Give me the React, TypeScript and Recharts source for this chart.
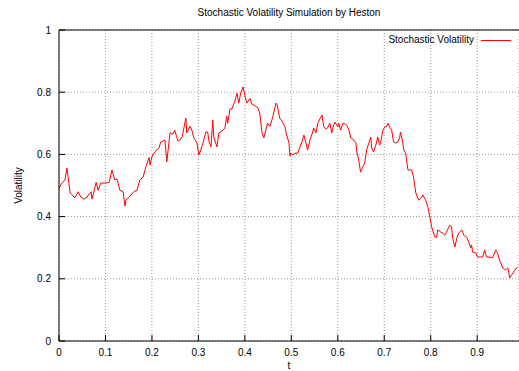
import { CartesianGrid, Line, LineChart, ReferenceLine, XAxis, YAxis } from "recharts"

// time steps (t) and simulated volatility
const times = [
  0.000, 0.006, 0.013, 0.017, 0.024, 0.028, 0.034, 0.041, 0.047, 0.054,
  0.060, 0.069, 0.071, 0.080, 0.084, 0.090, 0.101, 0.108, 0.114, 0.120,
  0.125, 0.131, 0.138, 0.142, 0.144, 0.153, 0.161, 0.168, 0.174, 0.181,
  0.187, 0.194, 0.196, 0.200, 0.206, 0.215, 0.219, 0.228, 0.232, 0.239,
  0.245, 0.249, 0.256, 0.260, 0.265, 0.273, 0.275, 0.282, 0.286, 0.290,
  0.297, 0.301, 0.305, 0.310, 0.316, 0.320, 0.323, 0.327, 0.331, 0.333,
  0.340, 0.344, 0.353, 0.357, 0.361, 0.363, 0.368, 0.372, 0.376, 0.378,
  0.383, 0.387, 0.391, 0.396, 0.400, 0.404, 0.411, 0.415, 0.422, 0.428,
  0.432, 0.437, 0.441, 0.445, 0.449, 0.454, 0.460, 0.467, 0.469, 0.475,
  0.480, 0.486, 0.490, 0.495, 0.497, 0.499, 0.503, 0.508, 0.514, 0.516,
  0.523, 0.527, 0.531, 0.535, 0.540, 0.546, 0.548, 0.553, 0.557, 0.559,
  0.566, 0.570, 0.574, 0.578, 0.583, 0.587, 0.591, 0.594, 0.600, 0.602,
  0.606, 0.611, 0.613, 0.619, 0.624, 0.628, 0.632, 0.639, 0.641, 0.645,
  0.649, 0.654, 0.658, 0.662, 0.667, 0.671, 0.673, 0.677, 0.682, 0.686,
  0.690, 0.692, 0.697, 0.701, 0.705, 0.708, 0.712, 0.716, 0.720, 0.725,
  0.729, 0.733, 0.735, 0.740, 0.742, 0.746, 0.751, 0.759, 0.763, 0.768,
  0.774, 0.781, 0.783, 0.789, 0.794, 0.798, 0.802, 0.804, 0.809, 0.813,
  0.815, 0.822, 0.826, 0.830, 0.834, 0.841, 0.845, 0.847, 0.852, 0.856,
  0.860, 0.867, 0.871, 0.877, 0.882, 0.886, 0.888, 0.890, 0.897, 0.901,
  0.908, 0.912, 0.916, 0.920, 0.925, 0.931, 0.933, 0.940, 0.944, 0.948,
  0.955, 0.961, 0.966, 0.970, 0.974, 0.981, 0.987,
]

const volatility = [
  0.49, 0.508, 0.518, 0.556, 0.476, 0.47, 0.46, 0.48, 0.463, 0.456,
  0.463, 0.48, 0.456, 0.51, 0.485, 0.508, 0.508, 0.51, 0.55, 0.518,
  0.52, 0.485, 0.48, 0.434, 0.453, 0.466, 0.48, 0.485, 0.518, 0.527,
  0.56, 0.59, 0.566, 0.592, 0.608, 0.62, 0.64, 0.646, 0.576, 0.67,
  0.665, 0.678, 0.643, 0.646, 0.656, 0.717, 0.669, 0.69, 0.678, 0.653,
  0.637, 0.598, 0.614, 0.637, 0.672, 0.672, 0.64, 0.624, 0.71, 0.656,
  0.624, 0.669, 0.678, 0.685, 0.723, 0.70, 0.746, 0.746, 0.762, 0.768,
  0.797, 0.765, 0.797, 0.817, 0.79, 0.765, 0.78, 0.762, 0.756, 0.75,
  0.733, 0.669, 0.653, 0.678, 0.70, 0.69, 0.72, 0.765, 0.762, 0.717,
  0.707, 0.69, 0.662, 0.637, 0.595, 0.604, 0.598, 0.604, 0.604, 0.614,
  0.64, 0.662, 0.64, 0.614, 0.646, 0.672, 0.685, 0.669, 0.70, 0.707,
  0.727, 0.688, 0.682, 0.685, 0.70, 0.669, 0.694, 0.704, 0.688, 0.70,
  0.678, 0.70, 0.70, 0.694, 0.678, 0.653, 0.65, 0.637, 0.608, 0.582,
  0.543, 0.56, 0.572, 0.614, 0.637, 0.656, 0.62, 0.608, 0.63, 0.656,
  0.63, 0.637, 0.678, 0.688, 0.69, 0.70, 0.688, 0.678, 0.64, 0.637,
  0.64, 0.653, 0.672, 0.637, 0.614, 0.604, 0.55, 0.55, 0.527, 0.476,
  0.453, 0.463, 0.47, 0.453, 0.43, 0.40, 0.367, 0.357, 0.334, 0.334,
  0.357, 0.35, 0.347, 0.34, 0.35, 0.373, 0.367, 0.334, 0.302, 0.33,
  0.347, 0.357, 0.34, 0.334, 0.318, 0.299, 0.309, 0.286, 0.283, 0.27,
  0.27, 0.27, 0.293, 0.27, 0.27, 0.268, 0.267, 0.293, 0.283, 0.26,
  0.235, 0.228, 0.235, 0.203, 0.212, 0.228, 0.238,
]

const xTicks = [0, 0.1, 0.2, 0.3, 0.4, 0.5, 0.6, 0.7, 0.8, 0.9]
const yTicks = [0, 0.2, 0.4, 0.6, 0.8, 1]

const data = times.map((t, i) => ({ t, v: volatility[i] }))

const font = "'Liberation Sans', Arial, sans-serif"

export default function App() {
  return (
    <div style={{ position: "absolute", left: 0, top: 0, width: 519, height: 371, background: "#fff" }}>
      <div
        style={{
          position: "absolute", top: 7, left: 59, width: 460, textAlign: "center",
          fontFamily: font, fontSize: 10, color: "#000", lineHeight: "12px",
        }}
      >
        Stochastic Volatility Simulation by Heston
      </div>
      <LineChart width={519} height={371} data={data} margin={{ top: 30, right: 0, bottom: 0, left: 0 }}>
        <CartesianGrid stroke="#9a9a9a" strokeDasharray="1 2" />
        <XAxis
          dataKey="t"
          type="number"
          domain={[0, 0.99]}
          ticks={xTicks}
          height={30}
          stroke="#000"
          tickSize={-6}
          tickMargin={14}
          tick={{ fill: "#000", fontSize: 10, fontFamily: font }}
          label={{ value: "t", position: "insideBottom", offset: 2, fill: "#000", fontSize: 10, fontFamily: font }}
        />
        <YAxis
          type="number"
          domain={[0, 1]}
          ticks={yTicks}
          width={59}
          stroke="#000"
          tickSize={-6}
          tickMargin={14}
          tick={{ fill: "#000", fontSize: 10, fontFamily: font }}
          label={({ viewBox }: any) => (
            <text
              x={19}
              y={viewBox.y + viewBox.height / 2}
              transform={`rotate(-90, 19, ${viewBox.y + viewBox.height / 2})`}
              textAnchor="middle"
              dominantBaseline="middle"
              fill="#000"
              fontSize={10}
              fontFamily={font}
            >
              Volatility
            </text>
          )}
        />
        <ReferenceLine y={1} stroke="#000" />
        <Line
          type="linear"
          dataKey="v"
          name="Stochastic Volatility"
          stroke="#ff0000"
          strokeWidth={1}
          dot={false}
          isAnimationActive={false}
        />
      </LineChart>
      <div
        style={{
          position: "absolute", top: 34, right: 8, display: "flex", alignItems: "center",
          fontFamily: font, fontSize: 10, color: "#000", lineHeight: "12px",
        }}
      >
        <span>Stochastic Volatility</span>
        <span style={{ display: "inline-block", width: 30, height: 0, borderTop: "1px solid #ff0000", marginLeft: 7 }} />
      </div>
    </div>
  )
}
